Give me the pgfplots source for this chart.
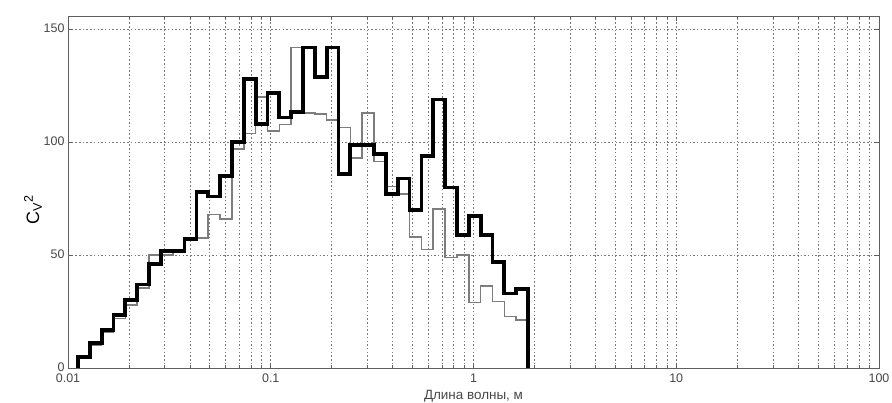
\documentclass[border=0pt]{standalone}
\usepackage{fontspec}
\setmainfont{Liberation Sans}
\usepackage{pgfplots}
\pgfplotsset{compat=1.18}
\definecolor{axgray}{RGB}{95,95,95}
\definecolor{gridgray}{RGB}{120,120,120}
\definecolor{sergray}{RGB}{125,125,125}
\definecolor{txtgray}{RGB}{70,70,70}

\begin{document}
\begin{tikzpicture}
\path[use as bounding box] (-68bp,-35bp) rectangle (824bp,368bp);
\begin{axis}[
  at={(0,0)}, anchor=south west,
  scale only axis, width=811bp, height=352bp,
  xmode=log, xmin=0.01, xmax=100, ymin=0, ymax=156,
  xtick={0.01,0.1,1,10,100}, xticklabels={0.01,0.1,1,10,100},
  ytick={0,50,100,150},
  xmajorgrids, xminorgrids, ymajorgrids,
  major grid style={gridgray, dash pattern=on 1.5bp off 2.2bp, line width=0.75bp},
  minor grid style={gridgray, dash pattern=on 1.5bp off 2.2bp, line width=0.75bp},
  axis line style={axgray, line width=0.9bp},
  tick style={axgray, line width=0.7bp},
  major tick length=5bp, minor tick length=3bp,
  tick align=inside,
  ticklabel style={font=\fontsize{12.5}{14}\selectfont, text=txtgray},
  xticklabel style={yshift=-2bp},
  yticklabel style={yshift=1bp},
  /pgf/number format/assume math mode=true,
  xlabel={Длина волны, м},
  xlabel style={font=\fontsize{13.5}{15}\selectfont, text=txtgray,
    at={(axis description cs:0.5,0)}, anchor=north, yshift=-19bp},
  ylabel={C\textsubscript{V}\textsuperscript{2}},
  ylabel style={font=\fontsize{18}{20}\selectfont, text=black,
    at={(axis description cs:-0.028,0.45)}, anchor=south},
]
% thin grey series
\addplot[const plot, sergray, line width=1.6bp] coordinates {
(0.01120,0) (0.01120,4.5) (0.01281,10) (0.01466,16) (0.01677,22) (0.01918,28)
(0.02194,35.5) (0.02511,50) (0.02872,50) (0.03286,52) (0.03758,57) (0.04299,57.5)
(0.04918,68) (0.05626,66) (0.06436,97) (0.07362,104) (0.08424,120) (0.09636,105)
(0.11024,108) (0.12607,142) (0.14424,113) (0.16499,112.5) (0.18873,110) (0.21589,106.5)
(0.24701,93) (0.28251,113) (0.32330,91.5) (0.36983,80.5) (0.42305,77) (0.48398,58)
(0.55363,52.5) (0.63328,70.5) (0.72444,49) (0.82871,50) (0.94799,29) (1.0844,36.4)
(1.2405,29.4) (1.4191,22.8) (1.6234,21.3) (1.8571,21.3) (1.8571,0)
};
% thick black series
\addplot[const plot, black, line width=3.8bp] coordinates {
(0.01120,0) (0.01120,5) (0.01281,11) (0.01466,17) (0.01677,23.5) (0.01918,30)
(0.02194,37) (0.02511,46) (0.02872,52) (0.03286,52) (0.03758,57) (0.04299,78)
(0.04918,76) (0.05626,85) (0.06436,100) (0.07362,128) (0.08424,108) (0.09636,122)
(0.11024,111) (0.12607,113.5) (0.14424,142) (0.16499,129) (0.18873,142) (0.21589,86)
(0.24701,99) (0.28251,99) (0.32330,95) (0.36983,77) (0.42305,84) (0.48398,70)
(0.55363,94) (0.63328,119) (0.72444,80) (0.82871,59) (0.94799,67.5) (1.0844,59)
(1.2405,47) (1.4191,33) (1.6234,35) (1.8571,35) (1.8571,0)
};
\end{axis}
\end{tikzpicture}
\end{document}
